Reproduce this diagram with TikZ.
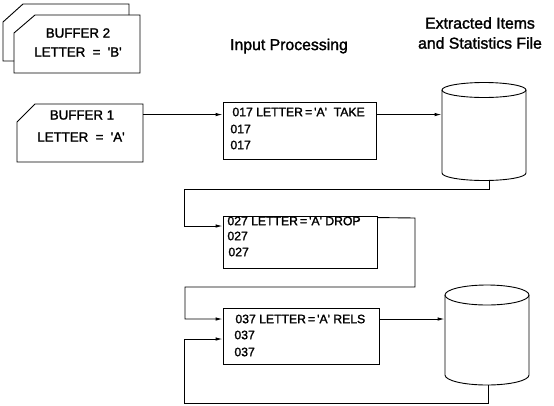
\documentclass[tikz,border=0pt]{standalone}
\usepackage{fontspec}
\setmainfont{Liberation Sans}[RawFeature={embolden=1.6}]
\usetikzlibrary{arrows.meta,calc}
\newcommand{\sq}{\textquotesingle}
\begin{document}
\begin{tikzpicture}[x=1pt,y=-1pt,line width=0.9pt,
  arr/.style={-{Latex[length=7pt,width=3.5pt]}},
  procbox/.style={draw,inner sep=0},
  ptext/.style={inner sep=0,anchor=west,font=\fontsize{12.2}{14}\selectfont},
  btext/.style={inner sep=0,font=\fontsize{13.3}{15}\selectfont},
  ttext/.style={inner sep=0,font=\fontsize{15.8}{18}\selectfont},
  hold/.style={inner sep=0}]
\useasboundingbox (0,0) rectangle (554,405);

% titles
\node[ttext] (tin) at (289,46) {Input Processing};
\node[ttext] (tex1) at (480,23) {Extracted Items};
\node[ttext] (tex2) at (480,43) {and Statistics File};

% buffer 2 (stacked)
\draw (14,61) -- (3,61) -- (3,22) -- (23,4) -- (129,4) -- (129,15);
\node[hold,minimum width=126pt,minimum height=58pt] (buf2) at (77,44) {};
\draw (14,33) -- (35,15) -- (140,15) -- (140,73) -- (14,73) -- cycle;
\node[btext] (b2a) at (78,33) {BUFFER 2};
\node[btext] (b2b) at (78,52) {LETTER\hspace{0.55em}=\hspace{0.55em}\sq B\sq};

% buffer 1
\node[hold,minimum width=126pt,minimum height=58pt] (buf1) at (80,133) {};
\draw (17,122) -- (35,104) -- (143,104) -- (143,162) -- (17,162) -- cycle;
\node[btext] (b1a) at (82,115) {BUFFER 1};
\node[btext] (b1b) at (81,137) {LETTER\hspace{0.55em}=\hspace{0.55em}\sq A\sq};

% processing boxes
\node[procbox,minimum width=153pt,minimum height=57pt] (p1) at (299.5,130.5) {};
\node[ptext] (p1a) at (232,112) {017 LETTER\,=\,\sq A\sq\ \ TAKE};
\node[ptext] (p1b) at (230,129) {017};
\node[ptext] (p1c) at (230,145) {017};

\node[procbox,minimum width=154pt,minimum height=52pt] (p2) at (300,242) {};
\node[ptext] (p2a) at (227,221) {027 LETTER\,=\,\sq A\sq\ DROP};
\node[ptext] (p2b) at (227,236) {027};
\node[ptext] (p2c) at (228,252) {027};

\node[procbox,minimum width=156pt,minimum height=56pt] (p3) at (301,336) {};
\node[ptext] (p3a) at (235,319) {037 LETTER\,=\,\sq A\sq\ RELS};
\node[ptext] (p3b) at (234,335) {037};
\node[ptext] (p3c) at (234,352) {037};

% cylinder 1
\node[hold,minimum width=84pt,minimum height=97pt] (c1) at (484,131.5) {};
\draw (484,90) ellipse [x radius=42, y radius=7.5];
\draw (442,90) -- (442,173) arc[start angle=180,end angle=0,x radius=42,y radius=7.5] -- (526,90);

% cylinder 2
\node[hold,minimum width=84pt,minimum height=100pt] (c2) at (487,335) {};
\draw (487,295) ellipse [x radius=42, y radius=10];
\draw (445,295) -- (445,375) arc[start angle=180,end angle=0,x radius=42,y radius=10] -- (529,295);

% connectors
\draw[arr] ($(buf1.north east)+(0,11)$) coordinate (s1) -- (s1 -| p1.west);
\draw[arr] ($(p1.north east)+(0,13)$) coordinate (s2) -- (s2 -| c1.west);
\draw[arr] ($(c1.south)+(5,0)$) coordinate (s3) -- ++(0,9) -| (184,226) coordinate (s3b) -- (s3b -| p2.west);
\draw[arr] ($(p2.north east)+(0,2)$) coordinate (s4) -- (415,218) |- (185,287) |- (p3a -| p3.west);
\draw[arr] (p3a -| p3.east) -- (p3a -| c2.west);
\draw[arr] (c2.south) ++(1,0) coordinate (s6) -- ++(0,18) -| (184,339) coordinate (s6b) -- (s6b -| p3.west);
\end{tikzpicture}
\end{document}
